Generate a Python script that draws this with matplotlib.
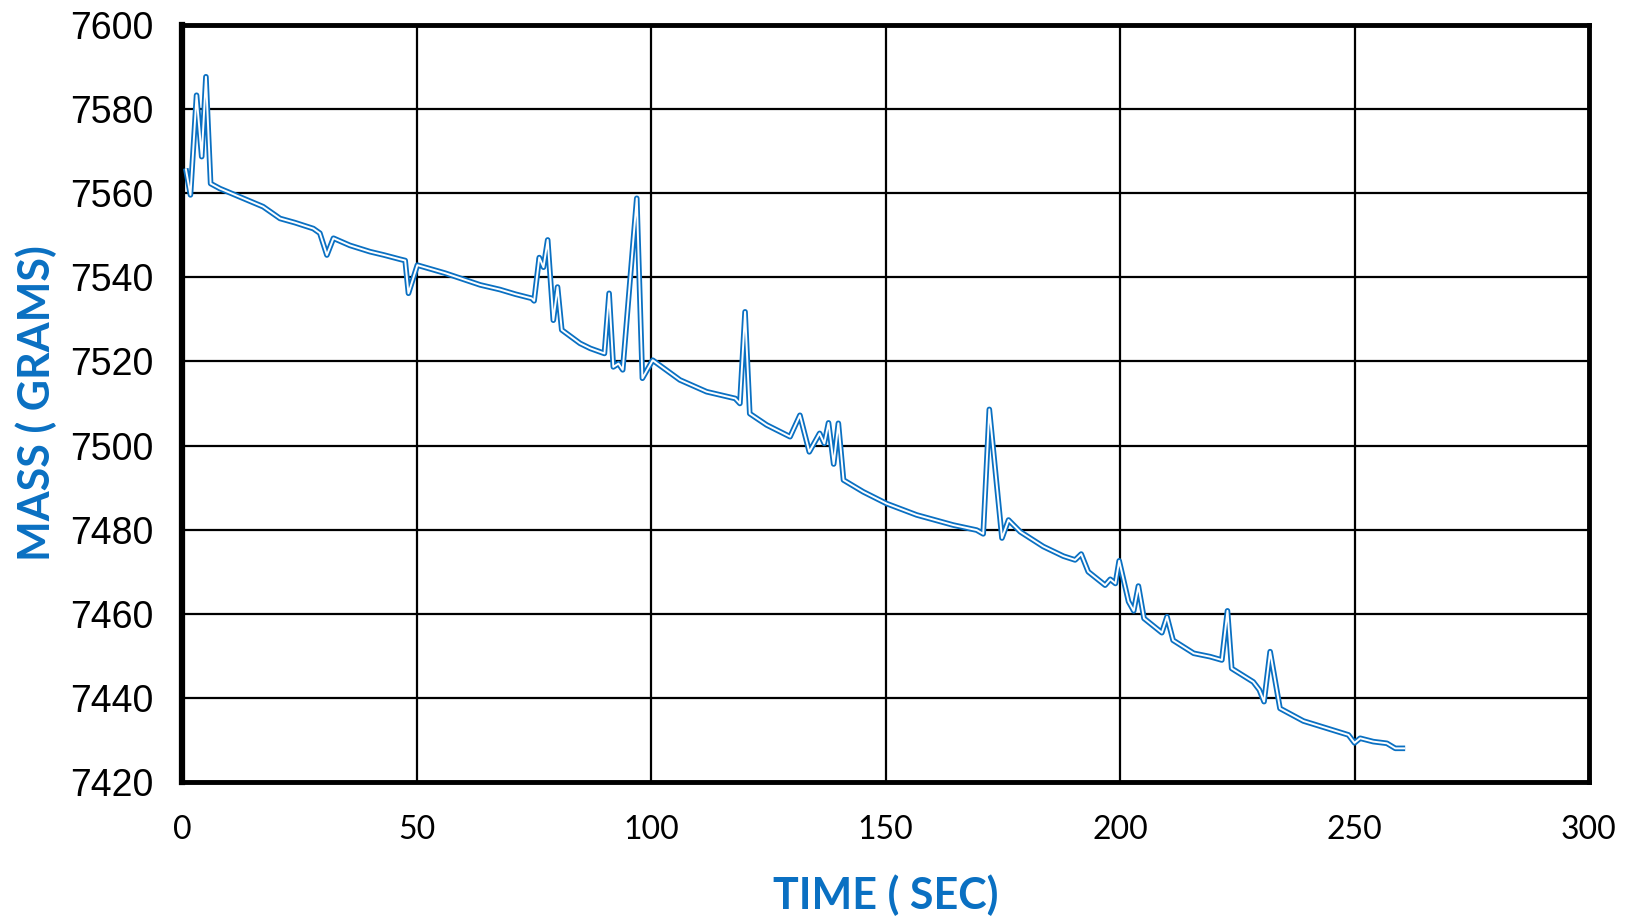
import numpy as np
import matplotlib.pyplot as plt

# readings taken off the scale trace
time_sec = [0.7, 1.7, 3.0, 4.1, 5.0, 6.0, 8.0, 12.5, 17.2, 20.8, 24, 27.9, 29.3, 30.8, 32.2,
            35.7, 40.0, 43, 46.4, 47.5, 48.2, 50.1, 56, 63.5, 67.7, 71, 74.5, 75.0, 76.1, 77.0,
            77.9, 79.1, 80.0, 80.9, 84.8, 87.0, 90.0, 91.0, 91.9, 93.0, 93.9, 96.9, 98.1, 100.3,
            106.1, 111.8, 117.9, 118.9, 120.0, 121.0, 124.6, 129.6, 131.7, 133.7, 135.9, 136.9,
            137.8, 138.9, 139.9, 141.0, 145.2, 150.2, 156.6, 164.4, 169.4, 170.8, 172.1, 174.8,
            176.2, 178.7, 183.6, 187.9, 190.4, 191.7, 193.2, 196.8, 197.9, 199.0, 199.8, 201.8,
            202.9, 203.9, 205.1, 208.9, 210.0, 211.3, 215.7, 219.2, 221.7, 222.9, 223.8, 228.4,
            229.7, 230.7, 232.0, 234.1, 239.1, 245.5, 248.7, 250.0, 251.2, 254.0, 256.9, 258.7,
            260.8]
mass_g = [7565.9, 7559.6, 7583.3, 7568.7, 7587.7, 7562.3, 7561.1, 7559, 7556.8, 7554.0, 7553.0,
          7551.6, 7550.5, 7545.3, 7549.3, 7547.6, 7546.1, 7545.3, 7544.3, 7544.0, 7536.2, 7542.9,
          7541.0, 7538.2, 7537.1, 7536.0, 7535.0, 7534.4, 7544.7, 7542.4, 7548.9, 7529.8, 7537.7,
          7527.5, 7524.3, 7523.1, 7521.9, 7536.2, 7518.7, 7519.5, 7518.0, 7558.8, 7516.0, 7520.3,
          7515.6, 7512.8, 7511.2, 7510.0, 7531.8, 7507.6, 7504.9, 7502.1, 7507.2, 7498.5, 7502.9,
          7500.5, 7505.4, 7495.6, 7505.3, 7491.8, 7489.0, 7486.2, 7483.5, 7481.1, 7479.9, 7479.0,
          7508.6, 7478.0, 7482.3, 7479.5, 7476.0, 7473.7, 7472.8, 7474.2, 7470.0, 7466.8, 7468.2,
          7467.2, 7472.6, 7462.9, 7460.7, 7466.6, 7458.9, 7455.5, 7459.3, 7453.7, 7450.6, 7449.8,
          7449.0, 7460.7, 7447.0, 7443.8, 7441.9, 7439.1, 7451.0, 7437.5, 7434.5, 7432.3, 7431.2,
          7429.3, 7430.4, 7429.6, 7429.2, 7428.0, 7428.0]

xticks = [0, 50, 100, 150, 200, 250, 300]
yticks = [7420, 7440, 7460, 7480, 7500, 7520, 7540, 7560, 7580, 7600]

blue = '#0a70c2'

fig = plt.figure(figsize=(16.25, 9.16), dpi=100)
ax = fig.add_axes([0.1123, 0.1463, 0.8655, 0.8264])

# double line look: thick blue with thin white core
ax.plot(time_sec, mass_g, color=blue, lw=4.0, solid_joinstyle='round',
        solid_capstyle='butt', zorder=3)
ax.plot(time_sec, mass_g, color='white', lw=1.4, solid_joinstyle='round',
        solid_capstyle='butt', zorder=4)

ax.set_xlim(0, 300)
ax.set_ylim(7420, 7600)
ax.set_xticks(xticks)
ax.set_yticks(yticks)
ax.grid(True, color='black', lw=1.6)
ax.set_axisbelow(True)

for s in ax.spines.values():
    s.set_linewidth(3.5)
    s.set_color('black')
ax.spines['left'].set_linewidth(4.5)

ax.tick_params(length=0)
ax.tick_params(axis='y', pad=21)
ax.tick_params(axis='x', pad=24)
for lab in ax.get_yticklabels():
    lab.set_fontfamily('Liberation Sans')
    lab.set_fontsize(27)
for lab in ax.get_xticklabels():
    lab.set_fontfamily('Lato')
    lab.set_fontsize(23)

fig.text(886 / 1625, 1 - 895 / 916, 'TIME ( SEC)', ha='center', va='center',
         fontfamily='Lato', fontweight='bold', fontsize=31, color=blue)
fig.text(36 / 1625, 1 - 403 / 916, 'MASS ( GRAMS)', ha='center', va='center', rotation=90,
         fontfamily='Lato', fontweight='bold', fontsize=31, color=blue)

fig.savefig('out.png', dpi=100)
